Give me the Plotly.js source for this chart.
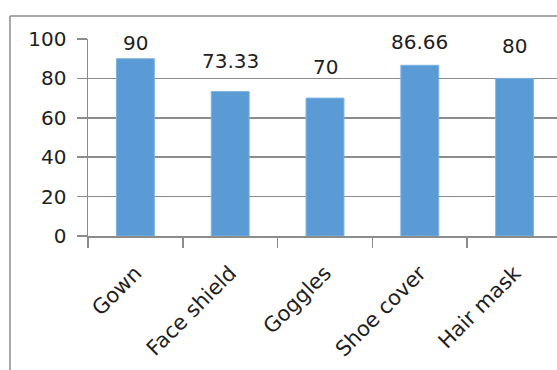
<!DOCTYPE html>
<html>
<head>
<meta charset="utf-8">
<script src="https://cdn.plot.ly/plotly-3.0.1.min.js"></script>
<style>
  html, body { margin: 0; padding: 0; background: #fff; overflow: hidden; }
  #chart { width: 562px; height: 370px; }
</style>
</head>
<body>
<div id="chart"></div>
<script>
// PPE items and their percentages
const categories = ["Gown", "Face shield", "Goggles", "Shoe cover", "Hair mask"];
const values = [90, 73.33, 70, 86.66, 80];
const yTicks = [0, 20, 40, 60, 80, 100];

// vertical lift (px) of each value label above its bar
const labelLift = [16, 31, 31, 23, 32];

const gridGrey = "#8c8c8c";
const textColor = "#1e1e1e";
const fontFamily = "DejaVu Sans, Verdana, sans-serif";

const trace = {
  type: "bar",
  x: categories,
  y: values,
  marker: { color: "#5b9bd5", line: { color: "#7fb2df", width: 1 } },
  hoverinfo: "skip"
};

const annotations = categories.map((c, i) => ({
  x: c,
  y: values[i],
  xref: "x",
  yref: "y",
  text: String(values[i]),
  showarrow: false,
  yanchor: "middle",
  yshift: labelLift[i],
  font: { family: fontFamily, size: 20, color: textColor }
}));

// chart frame (left and top edges)
const frame = [
  { type: "line", xref: "paper", yref: "paper", x0: -0.1646, x1: -0.1646, y0: 1.1168, y1: -0.7,
    line: { color: gridGrey, width: 1.5 } },
  { type: "line", xref: "paper", yref: "paper", x0: -0.1646, x1: 1.0, y0: 1.1168, y1: 1.1168,
    line: { color: gridGrey, width: 1.5 } }
];

const layout = {
  width: 562,
  height: 370,
  margin: { l: 88, r: 0, t: 39, b: 134, pad: 0 },
  paper_bgcolor: "#ffffff",
  plot_bgcolor: "#ffffff",
  showlegend: false,
  bargap: 0.6,
  font: { family: fontFamily, color: textColor },
  xaxis: {
    type: "category",
    showline: true,
    linecolor: gridGrey,
    linewidth: 1.5,
    ticks: "outside",
    tickson: "boundaries",
    ticklen: 10,
    tickcolor: gridGrey,
    tickwidth: 1.5,
    tickangle: -45,
    ticklabelstandoff: 15,
    tickfont: { family: fontFamily, size: 21, color: textColor },
    showgrid: false,
    fixedrange: true
  },
  yaxis: {
    range: [0, 100],
    tickvals: yTicks,
    ticktext: yTicks.map(String),
    showline: true,
    linecolor: gridGrey,
    linewidth: 1.5,
    ticks: "outside",
    ticklen: 10,
    tickcolor: gridGrey,
    tickwidth: 1.5,
    ticklabelstandoff: 6,
    showgrid: true,
    gridcolor: gridGrey,
    gridwidth: 1.5,
    zeroline: false,
    tickfont: { family: fontFamily, size: 20, color: textColor },
    fixedrange: true
  },
  annotations: annotations,
  shapes: frame
};

Plotly.newPlot("chart", [trace], layout, { displayModeBar: false, staticPlot: true });
</script>
</body>
</html>
